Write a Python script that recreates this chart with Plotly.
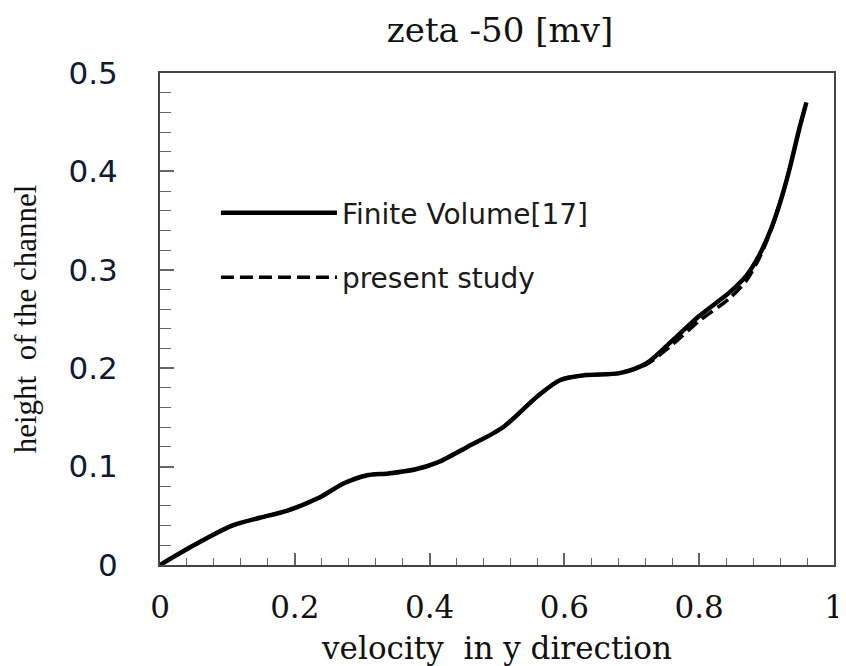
import plotly.graph_objects as go

# velocity in y direction (x) vs height of the channel (y)
VELOCITY = [
    0.0, 0.05, 0.107, 0.148, 0.188, 0.235, 0.273, 0.306, 0.339, 0.378,
    0.411, 0.456, 0.509, 0.561, 0.594, 0.632, 0.682, 0.722, 0.760, 0.800,
    0.845, 0.870, 0.890, 0.908, 0.923, 0.935, 0.948, 0.959,
]
HEIGHT_FV = [
    0.0, 0.020, 0.040, 0.048, 0.055, 0.068, 0.083, 0.091, 0.093, 0.097,
    0.104, 0.120, 0.140, 0.172, 0.188, 0.193, 0.195, 0.205, 0.228, 0.253,
    0.277, 0.294, 0.316, 0.344, 0.375, 0.405, 0.442, 0.470,
]
HEIGHT_PRESENT = [
    0.0, 0.020, 0.040, 0.048, 0.055, 0.068, 0.083, 0.091, 0.093, 0.097,
    0.104, 0.120, 0.140, 0.172, 0.188, 0.193, 0.195, 0.204, 0.224, 0.248,
    0.271, 0.289, 0.313, 0.343, 0.375, 0.405, 0.442, 0.470,
]
SERIES_NAMES = ["Finite Volume[17]", "present study"]
X_TICKS = [0, 0.2, 0.4, 0.6, 0.8, 1]
X_TICK_TEXT = ["0", "0.2", "0.4", "0.6", "0.8", "1"]
Y_TICKS = [0, 0.1, 0.2, 0.3, 0.4, 0.5]
Y_TICK_TEXT = ["0", "0.1", "0.2", "0.3", "0.4", "0.5"]

AXIS_COLOR = "#444444"
TICK_COLOR = "#666666"

# the page body keeps the browser's 8px margin, so the figure is 8px smaller
FIG_W, FIG_H = 838, 658

fig = go.Figure()
fig.add_trace(
    go.Scatter(
        x=VELOCITY,
        y=HEIGHT_FV,
        mode="lines",
        name=SERIES_NAMES[0],
        line={"color": "black", "width": 4.5, "shape": "spline", "smoothing": 0.8},
        legendgroup="a",
    )
)
fig.add_trace(
    go.Scatter(
        x=VELOCITY,
        y=HEIGHT_PRESENT,
        mode="lines",
        name=SERIES_NAMES[1],
        line={"color": "black", "width": 3.5, "dash": "13px,6px", "shape": "spline", "smoothing": 0.8},
        legendgroup="b",
    )
)

fig.update_layout(
    width=FIG_W,
    height=FIG_H,
    margin={"l": 152, "r": 12, "t": 65, "b": 101, "autoexpand": False},
    plot_bgcolor="white",
    paper_bgcolor="white",
    title={
        "text": "zeta -50 [mv]",
        "font": {"family": "DejaVu Serif", "size": 34, "color": "#111"},
        "x": 492 / FIG_W,
        "xanchor": "center",
        "y": 1 - 22 / FIG_H,
        "yanchor": "middle",
        "xref": "container",
        "yref": "container",
    },
    showlegend=True,
    legend={
        "x": 0.083,
        "y": 0.766,
        "xanchor": "left",
        "yanchor": "top",
        "bgcolor": "rgba(0,0,0,0)",
        "font": {"family": "DejaVu Sans", "size": 28, "color": "#1a1a1a"},
        "itemwidth": 116,
        "tracegroupgap": 25,
    },
)

fig.update_xaxes(
    range=[0, 1],
    automargin=False,
    showgrid=False,
    zeroline=False,
    showline=True,
    linecolor=AXIS_COLOR,
    linewidth=2,
    mirror=True,
    tickmode="array",
    tickvals=X_TICKS,
    ticktext=X_TICK_TEXT,
    ticks="inside",
    ticklen=12,
    tickwidth=1.5,
    tickcolor=TICK_COLOR,
    ticklabelstandoff=14,
    ticklabeloverflow="allow",
    tickfont={"family": "DejaVu Serif", "size": 31, "color": "#111"},
    minor={"dtick": 0.04, "tick0": 0, "ticks": "inside", "ticklen": 7, "tickwidth": 1.2, "tickcolor": TICK_COLOR},
    title={
        "text": "velocity  in y direction",
        "font": {"family": "DejaVu Serif", "size": 31, "color": "#111"},
        "standoff": 16,
    },
)

fig.update_yaxes(
    range=[0, 0.5],
    automargin=False,
    showgrid=False,
    zeroline=False,
    showline=True,
    linecolor=AXIS_COLOR,
    linewidth=2,
    mirror=True,
    tickmode="array",
    tickvals=Y_TICKS,
    ticktext=Y_TICK_TEXT,
    ticks="inside",
    ticklen=14,
    tickwidth=1.5,
    tickcolor=TICK_COLOR,
    ticklabelstandoff=34,
    ticklabeloverflow="allow",
    tickfont={"family": "DejaVu Sans", "size": 31, "color": "#111a33"},
    minor={"dtick": 0.02, "tick0": 0, "ticks": "inside", "ticklen": 11, "tickwidth": 1.2, "tickcolor": TICK_COLOR},
    title={
        "text": "height  of the channel",
        "font": {"family": "Liberation Serif", "size": 31, "color": "#111"},
        "standoff": 26,
    },
)

fig.write_html("out.html")
